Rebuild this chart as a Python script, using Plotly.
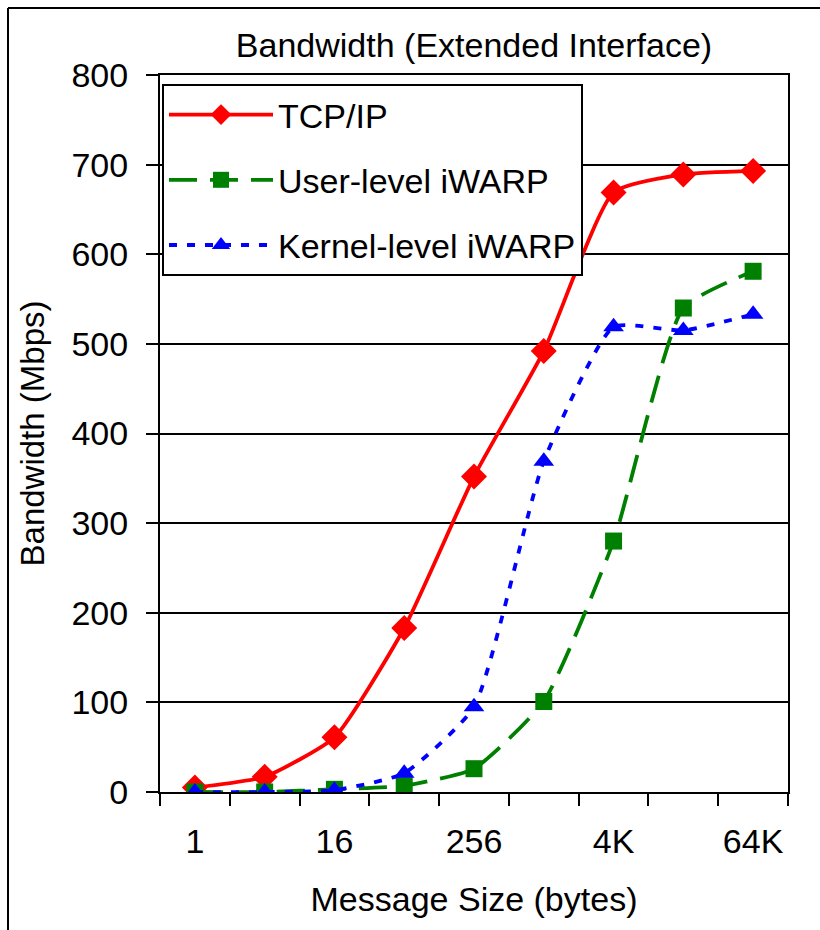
import plotly.graph_objects as go

categories = ["1", "4", "16", "64", "256", "1K", "4K", "16K", "64K"]
tick_labels = ["1", "16", "256", "4K", "64K"]
tcp_ip = [5, 17, 61, 183, 352, 492, 669, 689, 693]
user_iwarp = [0, 0, 3, 7, 26, 101, 280, 540, 581]
kernel_iwarp = [0, 0, 2, 21, 95, 369, 519, 515, 533]

x_idx = list(range(len(categories)))
FONT = "Liberation Sans, Arial, sans-serif"
SMOOTH = 0.5

fig = go.Figure()
fig.add_trace(go.Scatter(
    x=x_idx, y=tcp_ip, name="TCP/IP", mode="lines+markers", legendgroup="a",
    line=dict(color="#FF0000", width=3.8, shape="spline", smoothing=SMOOTH),
    marker=dict(symbol="diamond", size=20, color="#FF0000")))
fig.add_trace(go.Scatter(
    x=x_idx, y=user_iwarp, name="User-level iWARP", mode="lines+markers", legendgroup="b",
    line=dict(color="#008000", width=3.8, dash="28px,13px", shape="spline", smoothing=SMOOTH),
    marker=dict(symbol="square", size=17, color="#008000")))
fig.add_trace(go.Scatter(
    x=x_idx, y=kernel_iwarp, name="Kernel-level iWARP", mode="lines+markers", legendgroup="c",
    line=dict(color="#0000FF", width=3.8, dash="8px,10px", shape="spline", smoothing=SMOOTH),
    marker=dict(symbol="triangle-up", size=18, color="#0000FF")))

L, R, T, B = 160, 32, 75, 138
W, H = 820, 930
pw, ph = W - L - R, H - T - B

def px_x(p):
    return (p - L) / pw

def px_y(p):
    return (H - B - p) / ph

fig.update_layout(
    width=W, height=H,
    margin=dict(l=L, r=R, t=T, b=B),
    paper_bgcolor="white", plot_bgcolor="white",
    font=dict(family=FONT, color="black", size=30),
    title=dict(text="Bandwidth (Extended Interface)", x=px_x(474), xref="paper",
               y=1 - 45 / H, yanchor="middle", xanchor="center",
               font=dict(size=34, family=FONT, color="black")),
    showlegend=True,
    legend=dict(x=px_x(162), y=px_y(84), xanchor="left", yanchor="top",
                bgcolor="white", bordercolor="black", borderwidth=2,
                font=dict(size=34, family=FONT, color="black"),
                itemwidth=104, tracegroupgap=18, traceorder="grouped"),
    xaxis=dict(
        range=[-0.5, 8.5], tickmode="array", tickvals=[0, 2, 4, 6, 8],
        ticktext=tick_labels, ticks="", showgrid=False, zeroline=False,
        showline=True, linecolor="black", linewidth=2, mirror=True,
        ticklabelstandoff=18,
        tickfont=dict(size=34, family=FONT, color="black"),
        minor=dict(ticks="outside", ticklen=12, tickwidth=2, tickcolor="black",
                   tickmode="array", tickvals=[i - 0.5 for i in range(10)], showgrid=False),
        title=dict(text="Message Size (bytes)", font=dict(size=34, family=FONT, color="black"),
                   standoff=28),
    ),
    yaxis=dict(
        range=[0, 800], dtick=100, tick0=0, showgrid=True, gridcolor="black", gridwidth=2,
        zeroline=False, showline=True, linecolor="black", linewidth=2, mirror=True,
        ticks="outside", ticklen=12, tickwidth=2, tickcolor="black", ticklabelstandoff=11,
        tickfont=dict(size=34, family=FONT, color="black"),
        title=dict(text="Bandwidth (Mbps)", font=dict(size=33, family=FONT, color="black"),
                   standoff=17),
    ),
    shapes=[
        dict(type="line", xref="paper", yref="paper",
             x0=px_x(8), x1=px_x(8), y0=px_y(8), y1=px_y(935),
             line=dict(color="black", width=2), layer="below"),
        dict(type="line", xref="paper", yref="paper",
             x0=px_x(8), x1=px_x(820), y0=px_y(8), y1=px_y(8),
             line=dict(color="black", width=2), layer="below"),
    ],
)

fig.write_html("out.html")
